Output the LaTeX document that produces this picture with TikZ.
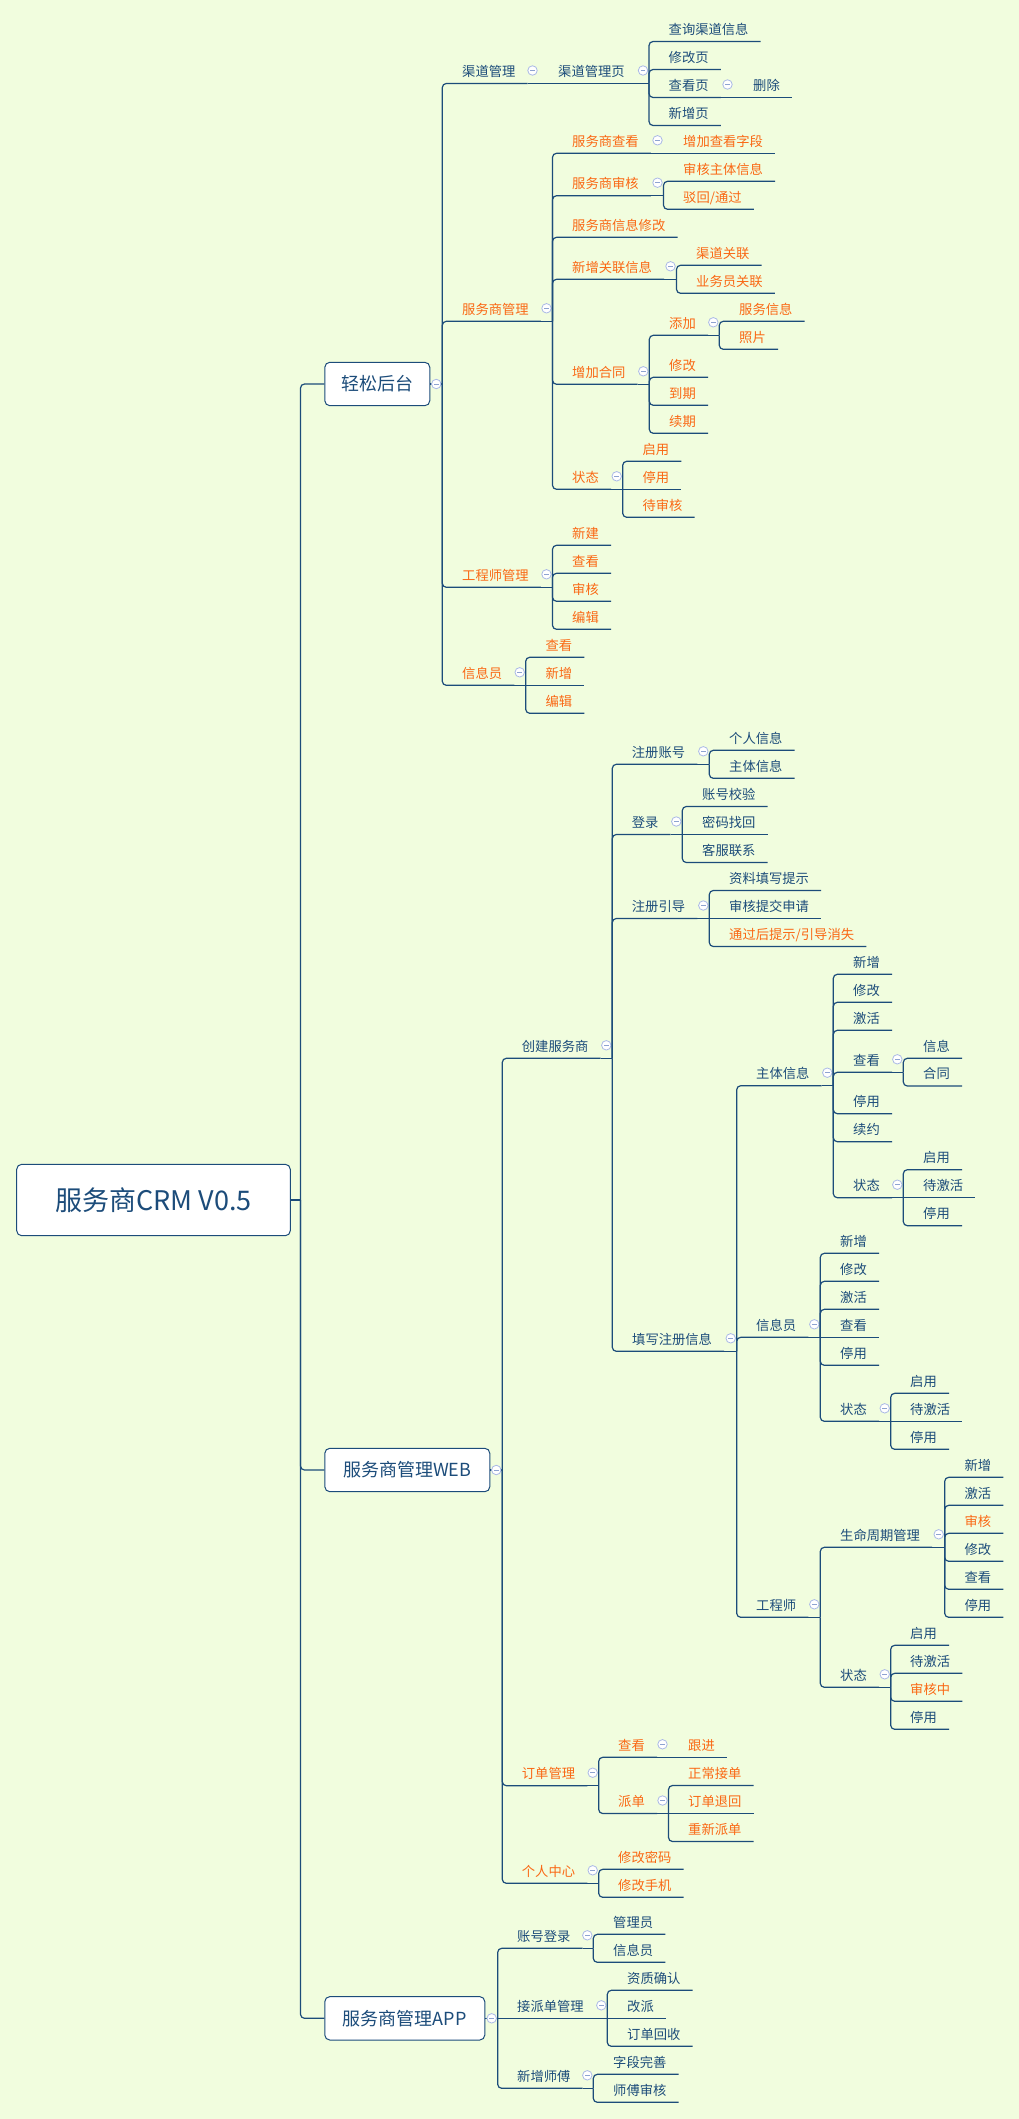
\documentclass[tikz,border=0pt]{standalone}
\usepackage{fontspec}
\newfontfamily\cjk{Noto Sans CJK SC}
\definecolor{bgc}{RGB}{241,253,222}
\definecolor{ink}{RGB}{28,76,122}
\definecolor{tang}{RGB}{250,104,20}
\definecolor{foldc}{RGB}{170,185,230}

% line from a topic to its bar, plus the fold mark
\newcommand\fork[2]{%
  \coordinate (#1-b) at (#1.south -| #2,0);
  \draw[br] (#1.south east) -- (#1-b);
  \node[fold] (#1-f) at ([shift={(-6,-13)}]#1-b) {};}

\begin{document}
\begin{tikzpicture}[x=1pt,y=-1pt,
  br/.style={draw=ink,line width=1.2pt,rounded corners=4pt},
  tp/.style={anchor=south west,xshift=-12pt,inner xsep=12pt,inner ysep=0pt,
    text height=10pt,text depth=7pt,text=ink,font=\cjk\fontsize{13.3}{16}\selectfont},
  tpo/.style={tp,text=tang},
  hub/.style={draw=ink,line width=1pt,fill=white,rounded corners=5pt,anchor=west,
    minimum height=43.4pt,inner xsep=0pt,text=ink,font=\cjk\fontsize{18}{20}\selectfont},
  root/.style={hub,anchor=center,minimum width=273.6pt,minimum height=71.4pt,
    font=\cjk\fontsize{27}{30}\selectfont},
  fold/.style={circle,draw=foldc,fill=white,minimum size=9.5pt,inner sep=0pt,line width=0.8pt,
    path picture={\draw[foldc!80!ink,line width=0.9pt]
      ([xshift=-2.3pt]path picture bounding box.center) -- ([xshift=2.3pt]path picture bounding box.center);}}]
  \fill[bgc] (0,0) rectangle (1019,2119);

  \node[root] (root) at (153.5,1200) {服务商CRM V0.5};
  \node[hub,minimum width=105pt] (qs) at (324.3,384) {轻松后台};
  \node[hub,minimum width=165pt] (web) at (324.3,1470) {服务商管理WEB};
  \node[hub,minimum width=160pt] (app) at (324.3,2018.3) {服务商管理APP};
  \coordinate (root-b) at (300.5,1200);
  \coordinate (qs-b) at (442.3,384);
  \coordinate (web-b) at (502.3,1470);
  \coordinate (app-b) at (497.7,2018.3);

  % 轻松后台
  \node[tp] (qd) at (462,83.5) {渠道管理};
  \node[tp] (qdy) at (558,83.5) {渠道管理页};
  \node[tp] (qdy1) at (668.5,41.5) {查询渠道信息};
  \node[tp] (qdy2) at (668.5,69.5) {修改页};
  \node[tp] (qdy3) at (668.5,97.5) {查看页};
  \node[tp] (qdy3a) at (753,97.5) {删除};
  \node[tp] (qdy4) at (668.5,125.5) {新增页};
  \node[tpo] (fw) at (462,321.3) {服务商管理};
  \node[tpo] (fw1) at (572,153.3) {服务商查看};
  \node[tpo] (fw1a) at (683,153.3) {增加查看字段};
  \node[tpo] (fw2) at (572,195.7) {服务商审核};
  \node[tpo] (fw2a) at (683,181.3) {审核主体信息};
  \node[tpo] (fw2b) at (683,209.3) {驳回/通过};
  \node[tpo] (fw3) at (572,237.3) {服务商信息修改};
  \node[tpo] (fw4) at (572,279.3) {新增关联信息};
  \node[tpo] (fw4a) at (696,265.3) {渠道关联};
  \node[tpo] (fw4b) at (696,293.3) {业务员关联};
  \node[tpo] (fw5) at (572,384.3) {增加合同};
  \node[tpo] (fw5a) at (669,335.3) {添加};
  \node[tpo] (fw5a1) at (739,321.3) {服务信息};
  \node[tpo] (fw5a2) at (739,349.3) {照片};
  \node[tpo] (fw5b) at (669,377.3) {修改};
  \node[tpo] (fw5c) at (669,405.3) {到期};
  \node[tpo] (fw5d) at (669,433.3) {续期};
  \node[tpo] (fw6) at (572,489.3) {状态};
  \node[tpo] (fw6a) at (642.3,461.3) {启用};
  \node[tpo] (fw6b) at (642.3,489.3) {停用};
  \node[tpo] (fw6c) at (642.3,517.3) {待审核};
  \node[tpo] (gc) at (462,587.3) {工程师管理};
  \node[tpo] (gc1) at (572,545.3) {新建};
  \node[tpo] (gc2) at (572,573.3) {查看};
  \node[tpo] (gc3) at (572,601.3) {审核};
  \node[tpo] (gc4) at (572,629.3) {编辑};
  \node[tpo] (xx) at (462,685.3) {信息员};
  \node[tpo] (xx1) at (545.3,657.3) {查看};
  \node[tpo] (xx2) at (545.3,685.3) {新增};
  \node[tpo] (xx3) at (545.3,713.3) {编辑};

  % 服务商管理WEB
  \node[tp] (cj) at (521.7,1058.3) {创建服务商};
  \node[tp] (zc) at (631.7,764.3) {注册账号};
  \node[tp] (zc1) at (729,750.3) {个人信息};
  \node[tp] (zc2) at (729,778.3) {主体信息};
  \node[tp] (dl) at (631.7,834.5) {登录};
  \node[tp] (dl1) at (702,806.5) {账号校验};
  \node[tp] (dl2) at (702,834.5) {密码找回};
  \node[tp] (dl3) at (702,862.5) {客服联系};
  \node[tp] (yd) at (631.7,918.5) {注册引导};
  \node[tp] (yd1) at (729,890.5) {资料填写提示};
  \node[tp] (yd2) at (729,918.5) {审核提交申请};
  \node[tpo] (yd3) at (729,946.5) {通过后提示/引导消失};
  \node[tp] (tx) at (632,1351.3) {填写注册信息};
  \node[tp] (zt) at (756,1085.7) {主体信息};
  \node[tp] (zt1) at (853,974.3) {新增};
  \node[tp] (zt2) at (853,1002.3) {修改};
  \node[tp] (zt3) at (853,1030.3) {激活};
  \node[tp] (zt4) at (853,1072.3) {查看};
  \node[tp] (zt4a) at (923,1058.3) {信息};
  \node[tp] (zt4b) at (923,1086) {合同};
  \node[tp] (zt5) at (853,1113.7) {停用};
  \node[tp] (zt6) at (853,1141.7) {续约};
  \node[tp] (zt7) at (853,1197.7) {状态};
  \node[tp] (zt7a) at (923,1169.7) {启用};
  \node[tp] (zt7b) at (923,1197.7) {待激活};
  \node[tp] (zt7c) at (923,1225.7) {停用};
  \node[tp] (xy) at (756,1337.3) {信息员};
  \node[tp] (xy1) at (840,1253.3) {新增};
  \node[tp] (xy2) at (840,1281.3) {修改};
  \node[tp] (xy3) at (840,1309.3) {激活};
  \node[tp] (xy4) at (840,1337.3) {查看};
  \node[tp] (xy5) at (840,1365.3) {停用};
  \node[tp] (xy6) at (840,1421.3) {状态};
  \node[tp] (xy6a) at (910,1393.3) {启用};
  \node[tp] (xy6b) at (910,1421.3) {待激活};
  \node[tp] (xy6c) at (910,1449.3) {停用};
  \node[tp] (gs) at (756,1617.3) {工程师};
  \node[tp] (sm) at (840,1547.3) {生命周期管理};
  \node[tp] (sm1) at (964.3,1477.3) {新增};
  \node[tp] (sm2) at (964.3,1505.3) {激活};
  \node[tpo] (sm3) at (964.3,1533.3) {审核};
  \node[tp] (sm4) at (964.3,1561.3) {修改};
  \node[tp] (sm5) at (964.3,1589.3) {查看};
  \node[tp] (sm6) at (964.3,1617.3) {停用};
  \node[tp] (gz) at (840,1687.3) {状态};
  \node[tp] (gz1) at (910,1645.3) {启用};
  \node[tp] (gz2) at (910,1673.3) {待激活};
  \node[tpo] (gz3) at (910,1701.3) {审核中};
  \node[tp] (gz4) at (910,1729.3) {停用};
  \node[tpo] (dd) at (521.7,1785.7) {订单管理};
  \node[tpo] (dd1) at (618,1757.3) {查看};
  \node[tpo] (dd1a) at (688,1757.3) {跟进};
  \node[tpo] (dd2) at (618,1813.5) {派单};
  \node[tpo] (dd2a) at (688,1785.5) {正常接单};
  \node[tpo] (dd2b) at (688,1813.5) {订单退回};
  \node[tpo] (dd2c) at (688,1841.5) {重新派单};
  \node[tpo] (gr) at (521.7,1883.3) {个人中心};
  \node[tpo] (gr1) at (618,1869.3) {修改密码};
  \node[tpo] (gr2) at (618,1897.3) {修改手机};

  % 服务商管理APP
  \node[tp] (zh) at (517,1948.3) {账号登录};
  \node[tp] (zh1) at (613,1934.3) {管理员};
  \node[tp] (zh2) at (613,1962.3) {信息员};
  \node[tp] (jp) at (517,2018.3) {接派单管理};
  \node[tp] (jp1) at (627,1990.3) {资质确认};
  \node[tp] (jp2) at (627,2018.3) {改派};
  \node[tp] (jp3) at (627,2046.3) {订单回收};
  \node[tp] (xs) at (517,2088.3) {新增师傅};
  \node[tp] (xs1) at (613,2074.3) {字段完善};
  \node[tp] (xs2) at (613,2102.3) {师傅审核};

  % branches
  \draw[br] (root.east) -- (root-b);
  \foreach \c in {qs,web,app} \draw[br] (root-b) |- (\c.west);
  \draw[br] (qs.east) -- (qs-b);
  \draw[br] (web.east) -- (web-b);
  \draw[br] (app.east) -- (app-b);
  \node[fold] (qs-f) at ([xshift=-6pt]qs-b) {};
  \node[fold] (web-f) at ([xshift=-6pt]web-b) {};
  \node[fold] (app-f) at ([xshift=-6pt]app-b) {};

  \foreach \c in {qd,fw,gc,xx} \draw[br] (qs-b) |- (\c.south east);
  \fork{qd}{538.5} \draw[br] (qd-b) -- (qdy.south east);
  \fork{qdy}{649} \foreach \c in {qdy1,qdy2,qdy3,qdy4} \draw[br] (qdy-b) |- (\c.south east);
  \fork{qdy3}{733.5} \draw[br] (qdy3-b) -- (qdy3a.south east);
  \fork{fw}{552.5} \foreach \c in {fw1,fw2,fw3,fw4,fw5,fw6} \draw[br] (fw-b) |- (\c.south east);
  \fork{fw1}{663.5} \draw[br] (fw1-b) -- (fw1a.south east);
  \fork{fw2}{663.5} \foreach \c in {fw2a,fw2b} \draw[br] (fw2-b) |- (\c.south east);
  \fork{fw4}{676.5} \foreach \c in {fw4a,fw4b} \draw[br] (fw4-b) |- (\c.south east);
  \fork{fw5}{649.3} \foreach \c in {fw5a,fw5b,fw5c,fw5d} \draw[br] (fw5-b) |- (\c.south east);
  \fork{fw5a}{719.3} \foreach \c in {fw5a1,fw5a2} \draw[br] (fw5a-b) |- (\c.south east);
  \fork{fw6}{622.7} \foreach \c in {fw6a,fw6c} \draw[br] (fw6-b) |- (\c.south east);
  \draw[br] (fw6-b) -- (fw6b.south east);
  \fork{gc}{552.5} \foreach \c in {gc1,gc2,gc3,gc4} \draw[br] (gc-b) |- (\c.south east);
  \fork{xx}{525.7} \foreach \c in {xx1,xx3} \draw[br] (xx-b) |- (\c.south east);
  \draw[br] (xx-b) -- (xx2.south east);

  \foreach \c in {cj,dd,gr} \draw[br] (web-b) |- (\c.south east);
  \fork{cj}{612.3} \foreach \c in {zc,dl,yd,tx} \draw[br] (cj-b) |- (\c.south east);
  \fork{zc}{709.3} \foreach \c in {zc1,zc2} \draw[br] (zc-b) |- (\c.south east);
  \fork{dl}{682.3} \foreach \c in {dl1,dl3} \draw[br] (dl-b) |- (\c.south east);
  \draw[br] (dl-b) -- (dl2.south east);
  \fork{yd}{709.3} \foreach \c in {yd1,yd3} \draw[br] (yd-b) |- (\c.south east);
  \draw[br] (yd-b) -- (yd2.south east);
  \fork{tx}{736.7} \foreach \c in {zt,xy,gs} \draw[br] (tx-b) |- (\c.south east);
  \fork{zt}{833.3} \foreach \c in {zt1,zt2,zt3,zt4,zt5,zt6,zt7} \draw[br] (zt-b) |- (\c.south east);
  \fork{zt4}{903.3} \foreach \c in {zt4a,zt4b} \draw[br] (zt4-b) |- (\c.south east);
  \fork{zt7}{903.3} \foreach \c in {zt7a,zt7c} \draw[br] (zt7-b) |- (\c.south east);
  \draw[br] (zt7-b) -- (zt7b.south east);
  \fork{xy}{820.3} \foreach \c in {xy1,xy2,xy3,xy5,xy6} \draw[br] (xy-b) |- (\c.south east);
  \draw[br] (xy-b) -- (xy4.south east);
  \fork{xy6}{890.7} \foreach \c in {xy6a,xy6c} \draw[br] (xy6-b) |- (\c.south east);
  \draw[br] (xy6-b) -- (xy6b.south east);
  \fork{gs}{820.3} \foreach \c in {sm,gz} \draw[br] (gs-b) |- (\c.south east);
  \fork{sm}{944.7} \foreach \c in {sm1,sm2,sm3,sm4,sm5,sm6} \draw[br] (sm-b) |- (\c.south east);
  \fork{gz}{890.7} \foreach \c in {gz1,gz2,gz3,gz4} \draw[br] (gz-b) |- (\c.south east);
  \fork{dd}{598.7} \foreach \c in {dd1,dd2} \draw[br] (dd-b) |- (\c.south east);
  \fork{dd1}{668.5} \draw[br] (dd1-b) -- (dd1a.south east);
  \fork{dd2}{668.5} \foreach \c in {dd2a,dd2c} \draw[br] (dd2-b) |- (\c.south east);
  \draw[br] (dd2-b) -- (dd2b.south east);
  \fork{gr}{598.7} \foreach \c in {gr1,gr2} \draw[br] (gr-b) |- (\c.south east);

  \foreach \c in {zh,xs} \draw[br] (app-b) |- (\c.south east);
  \draw[br] (app-b) -- (jp.south east);
  \fork{zh}{593.3} \foreach \c in {zh1,zh2} \draw[br] (zh-b) |- (\c.south east);
  \fork{jp}{607.3} \foreach \c in {jp1,jp3} \draw[br] (jp-b) |- (\c.south east);
  \draw[br] (jp-b) -- (jp2.south east);
  \fork{xs}{593.3} \foreach \c in {xs1,xs2} \draw[br] (xs-b) |- (\c.south east);
\end{tikzpicture}
\end{document}
